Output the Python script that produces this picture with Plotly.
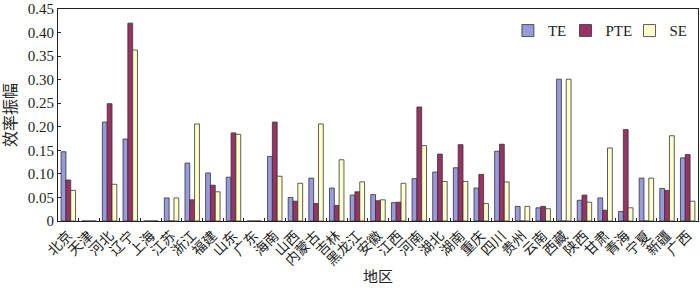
import plotly.graph_objects as go

regions = ["北京", "天津", "河北", "辽宁", "上海", "江苏", "浙江", "福建", "山东", "广东",
           "海南", "山西", "内蒙古", "吉林", "黑龙江", "安徽", "江西", "河南", "湖北", "湖南",
           "重庆", "四川", "贵州", "云南", "西藏", "陕西", "甘肃", "青海", "宁夏", "新疆", "广西"]

te = [0.147, 0, 0.210, 0.174, 0, 0.049, 0.123, 0.102, 0.093, 0,
      0.137, 0.050, 0.091, 0.070, 0.055, 0.056, 0.039, 0.090, 0.104, 0.113,
      0.070, 0.148, 0.031, 0.028, 0.301, 0.044, 0.049, 0.020, 0.091, 0.069, 0.134]
pte = [0.087, 0, 0.249, 0.420, 0, 0, 0.045, 0.076, 0.187, 0,
       0.210, 0.042, 0.037, 0.033, 0.062, 0.043, 0.040, 0.242, 0.142, 0.162,
       0.099, 0.163, 0, 0.031, 0, 0.055, 0.023, 0.194, 0, 0.065, 0.141]
se = [0.065, 0, 0.078, 0.363, 0, 0.049, 0.206, 0.062, 0.184, 0,
      0.095, 0.080, 0.206, 0.130, 0.083, 0.045, 0.080, 0.160, 0.084, 0.084,
      0.037, 0.083, 0.031, 0.026, 0.301, 0.040, 0.155, 0.028, 0.091, 0.181, 0.042]

y_ticks = [0, 0.05, 0.10, 0.15, 0.20, 0.25, 0.30, 0.35, 0.40, 0.45]
y_tick_text = ["0", "0.05", "0.10", "0.15", "0.20", "0.25", "0.30", "0.35", "0.40", "0.45"]

FONT = "'Liberation Serif', 'Times New Roman', 'Noto Sans CJK SC', serif"
outline = dict(color="#333333", width=0.8)

fig = go.Figure()
fig.add_trace(go.Bar(name="TE", x=regions, y=te, legend="legend",
                     marker=dict(color="#9999DD", line=outline)))
fig.add_trace(go.Bar(name="PTE", x=regions, y=pte, legend="legend2",
                     marker=dict(color="#993366", line=outline)))
fig.add_trace(go.Bar(name="SE", x=regions, y=se, legend="legend3",
                     marker=dict(color="#FFFFCC", line=outline)))

leg_common = dict(y=0.975, xanchor="left", yanchor="top", font=dict(size=15),
                  bgcolor="rgba(0,0,0,0)", borderwidth=0)

fig.update_layout(
    width=700, height=297,
    margin=dict(l=58, r=2, t=9, b=76),
    paper_bgcolor="white", plot_bgcolor="white",
    barmode="group", bargap=0.3, bargroupgap=0,
    font=dict(family=FONT, size=14, color="#222222"),
    showlegend=True,
    legend=dict(x=0.703, **leg_common),
    legend2=dict(x=0.793, **leg_common),
    legend3=dict(x=0.893, **leg_common),
    xaxis=dict(
        type="category", tickangle=-45, showline=True, linecolor="#222222", linewidth=1,
        mirror=True, ticks="inside", ticklen=3, tickson="boundaries", tickcolor="#222222",
        showgrid=False, tickfont=dict(size=14),
        title=dict(text="地区", font=dict(size=15), standoff=2),
    ),
    yaxis=dict(
        range=[0, 0.45], tickvals=y_ticks, ticktext=y_tick_text,
        showline=True, linecolor="#222222", linewidth=1, mirror=True,
        ticks="inside", ticklen=3, tickcolor="#222222", showgrid=False, zeroline=False,
        tickfont=dict(size=15),
        title=dict(text="效率振幅", font=dict(size=16), standoff=7),
    ),
)

fig.write_html("out.html", config={"displayModeBar": False},
               post_script="document.body.style.margin='0';document.body.style.overflow='hidden';")
